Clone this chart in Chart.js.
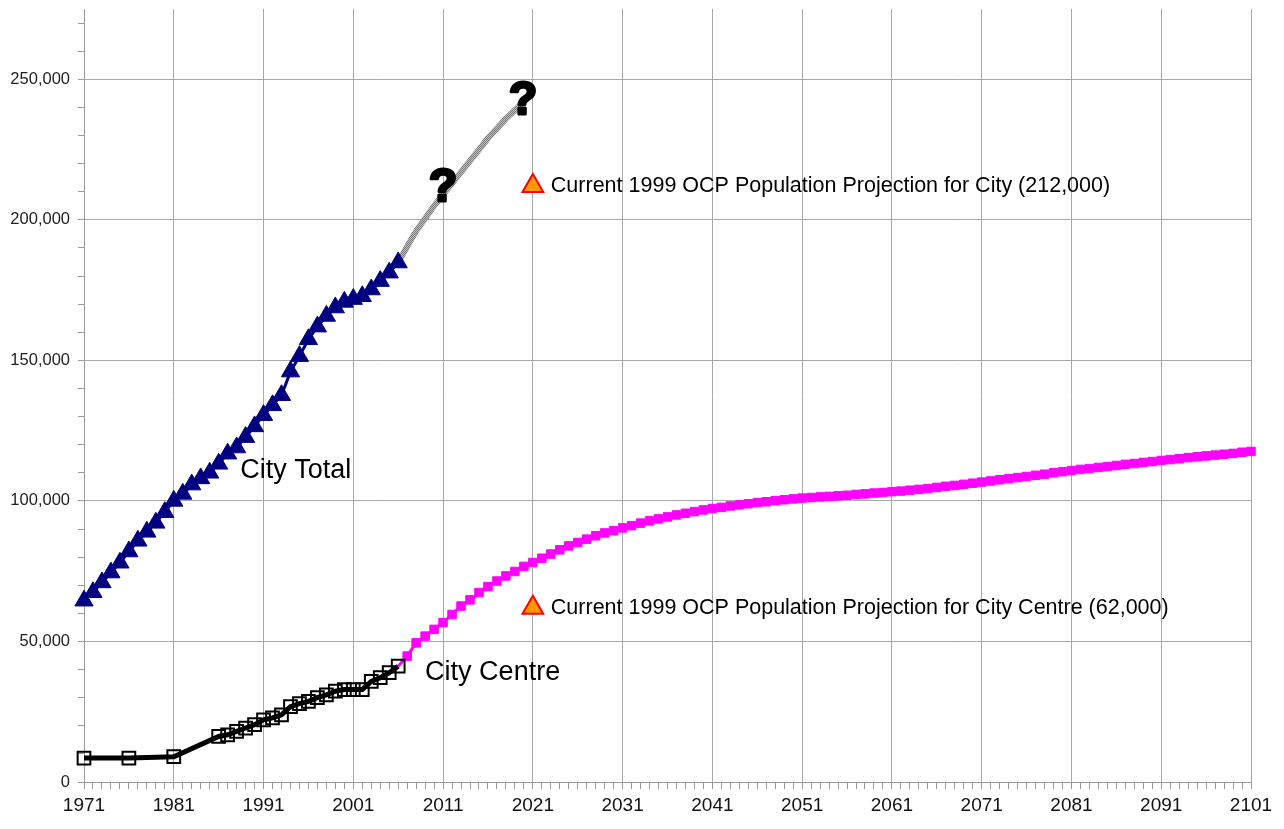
<!DOCTYPE html>
<html>
<head>
<meta charset="utf-8">
<script src="https://cdn.jsdelivr.net/npm/chart.js@4/dist/chart.umd.min.js"></script>
<style>
  html, body { margin: 0; padding: 0; background: #fff; }
  #wrap { width: 1284px; height: 829px; }
</style>
</head>
<body>
<div id="wrap"><canvas id="chart"></canvas></div>
<script>
// City total, annual estimates 1971-2006
const totalYears = [
  1971, 1972, 1973, 1974, 1975, 1976, 1977, 1978, 1979, 1980,
  1981, 1982, 1983, 1984, 1985, 1986, 1987, 1988, 1989, 1990,
  1991, 1992, 1993, 1994, 1995, 1996, 1997, 1998, 1999, 2000,
  2001, 2002, 2003, 2004, 2005, 2006,
]
const totalValues = [
  64500, 67500, 71000, 74500, 78000, 82000, 85800, 89000, 92200, 96000,
  100000, 102500, 105800, 108000, 110000, 113200, 116800, 119000, 122700, 126500,
  130500, 134000, 137600, 146000, 151500, 157500, 162000, 165800, 168800, 170800,
  171800, 172800, 175200, 178200, 181200, 184800,
]

// City total, trend continued (grey)
const trendYears = [2006, 2007, 2008, 2009, 2010, 2011, 2012, 2013, 2014, 2015, 2016, 2017, 2018, 2019, 2020]
const trendValues = [184800, 190500, 196000, 200500, 205000, 209000, 213000, 217000, 221000, 225000, 229000, 232500, 236000, 239000, 242000]

// City centre
const centreYears = [
  1971, 1976, 1981, 1986, 1987, 1988, 1989, 1990, 1991, 1992,
  1993, 1994, 1995, 1996, 1997, 1998, 1999, 2000, 2001, 2002,
  2003, 2004, 2005, 2006,
]
const centreValues = [
  8500, 8500, 9000, 16200, 16800, 18000, 19200, 20400, 22100, 22800,
  23900, 26800, 27900, 28700, 30000, 31000, 32300, 32900, 32900, 32900,
  35800, 37100, 38900, 41200,
]

// City centre projection (magenta)
const projYears = [
  2006, 2007, 2008, 2009, 2010, 2011, 2012, 2013, 2014, 2015,
  2016, 2017, 2018, 2019, 2020, 2021, 2022, 2023, 2024, 2025,
  2026, 2027, 2028, 2029, 2030, 2031, 2032, 2033, 2034, 2035,
  2036, 2037, 2038, 2039, 2040, 2041, 2042, 2043, 2044, 2045,
  2046, 2047, 2048, 2049, 2050, 2051, 2052, 2053, 2054, 2055,
  2056, 2057, 2058, 2059, 2060, 2061, 2062, 2063, 2064, 2065,
  2066, 2067, 2068, 2069, 2070, 2071, 2072, 2073, 2074, 2075,
  2076, 2077, 2078, 2079, 2080, 2081, 2082, 2083, 2084, 2085,
  2086, 2087, 2088, 2089, 2090, 2091, 2092, 2093, 2094, 2095,
  2096, 2097, 2098, 2099, 2100, 2101,
]
const projValues = [
  41200, 44800, 49500, 51900, 54300, 56700, 59600, 62600, 64800, 67400,
  69500, 71500, 73300, 74900, 76700, 78100, 79600, 81100, 82600, 84000,
  85200, 86400, 87600, 88600, 89400, 90400, 91200, 92100, 92900, 93600,
  94300, 95000, 95600, 96200, 96800, 97300, 97700, 98200, 98600, 99000,
  99400, 99700, 100100, 100400, 100700, 101000, 101200, 101400, 101600, 101800,
  102000, 102300, 102500, 102800, 103000, 103300, 103500, 103800, 104100, 104400,
  104800, 105200, 105500, 105900, 106300, 106700, 107100, 107500, 107900, 108300,
  108700, 109100, 109500, 110000, 110400, 110800, 111200, 111500, 111900, 112200,
  112600, 113000, 113300, 113700, 114000, 114400, 114700, 115000, 115400, 115700,
  116000, 116300, 116600, 116900, 117300, 117600,
]

// 1999 OCP projections
const ocpYears = [2021, 2021]
const ocpValues = [212000, 62000]
const ocpLabels = [
  "Current 1999 OCP Population Projection for City (212,000)",
  "Current 1999 OCP Population Projection for City Centre (62,000)",
]

// y axis ticks (labels only on every 50,000)
const yTicks = [
  0, 10000, 20000, 30000, 40000, 50000, 60000, 70000, 80000, 90000,
  100000, 110000, 120000, 130000, 140000, 150000, 160000, 170000, 180000, 190000,
  200000, 210000, 220000, 230000, 240000, 250000, 260000, 270000,
]

// free text placed in data units
const seriesNotes = [
  { text: "City Total", year: 1988.4, value: 110700 },
  { text: "City Centre", year: 2009, value: 38900 },
]
const questionMarks = [
  { year: 2011, value: 206800 },
  { year: 2019.9, value: 237500 },
]

const GRID = "#a8a8a8"
const TICK = "#999999"
const FONT = "'Liberation Sans', Arial, sans-serif"

function points(xs, ys) {
  return xs.map((x, i) => ({ x, y: ys[i] }))
}

function greyPattern() {
  const c = document.createElement("canvas")
  c.width = 2
  c.height = 2
  const g = c.getContext("2d")
  g.fillStyle = "#bcbcbc"
  g.fillRect(0, 0, 2, 2)
  g.fillStyle = "#7c7c7c"
  g.fillRect(0, 0, 1, 1)
  g.fillRect(1, 1, 1, 1)
  return g.createPattern(c, "repeat")
}

const textPlugin = {
  id: "notes",
  afterDatasetsDraw(chart) {
    const { ctx, scales } = chart
    const xs = scales.x
    const ys = scales.y
    ctx.save()
    ctx.fillStyle = "#000"
    ctx.textAlign = "left"
    ctx.textBaseline = "middle"
    ctx.font = `27px ${FONT}`
    seriesNotes.forEach((n) => {
      ctx.fillText(n.text, xs.getPixelForValue(n.year), ys.getPixelForValue(n.value))
    })

    ctx.font = `21.5px ${FONT}`
    ocpLabels.forEach((label, i) => {
      ctx.fillText(label, xs.getPixelForValue(ocpYears[i]) + 18, ys.getPixelForValue(ocpValues[i]))
    })

    ctx.font = `bold 46px ${FONT}`
    ctx.textAlign = "center"
    ctx.textBaseline = "alphabetic"
    ctx.lineWidth = 3
    ctx.lineJoin = "round"
    ctx.strokeStyle = "#000"
    questionMarks.forEach((q) => {
      const px = xs.getPixelForValue(q.year)
      const py = ys.getPixelForValue(q.value)
      ctx.strokeText("?", px, py)
      ctx.fillText("?", px, py)
    })
    ctx.restore()
  },
}

new Chart(document.getElementById("chart"), {
  type: "line",
  data: {
    datasets: [
      {
        label: "OCP projection",
        data: points(ocpYears, ocpValues),
        showLine: false,
        pointStyle: "triangle",
        pointRadius: 12,
        pointBackgroundColor: "#ff9900",
        pointBorderColor: "#ff0000",
        pointBorderWidth: 2,
        clip: false,
      },
      {
        label: "City Total",
        data: points(totalYears, totalValues),
        borderColor: "#000080",
        borderWidth: 3,
        pointStyle: "triangle",
        pointRadius: 10.5,
        pointBackgroundColor: "#000080",
        pointBorderColor: "#000080",
        pointBorderWidth: 1,
        clip: false,
      },
      {
        label: "City Centre",
        data: points(centreYears, centreValues),
        borderColor: "#000",
        borderWidth: 5,
        pointStyle: "rect",
        pointRadius: 9,
        pointBackgroundColor: "rgba(0,0,0,0)",
        pointBorderColor: "#000",
        pointBorderWidth: 2,
        clip: false,
      },
      {
        label: "City Total trend",
        data: points(trendYears, trendValues),
        borderColor: greyPattern(),
        borderWidth: 6,
        pointRadius: 0,
      },
      {
        label: "City Centre projection",
        data: points(projYears, projValues),
        borderColor: "#ff00ff",
        borderWidth: 3,
        pointStyle: "rect",
        pointRadius: (ctx) => (ctx.dataIndex === 0 ? 0 : 6),
        pointBackgroundColor: "#ff00ff",
        pointBorderColor: "#ff00ff",
        pointBorderWidth: 1,
        clip: false,
      },
    ],
  },
  options: {
    responsive: true,
    maintainAspectRatio: false,
    animation: false,
    events: [],
    layout: { autoPadding: false, padding: { top: 9, right: 33, left: 0, bottom: 0 } },
    plugins: {
      legend: { display: false },
      tooltip: { enabled: false },
    },
    scales: {
      x: {
        type: "linear",
        min: 1971,
        max: 2101,
        afterFit: (scale) => { scale.height = 47 },
        ticks: {
          stepSize: 1,
          autoSkip: false,
          maxRotation: 0,
          minRotation: 0,
          padding: 5,
          color: "#111",
          font: { family: FONT, size: 19 },
          callback: (v) => ((v - 1971) % 10 === 0 ? String(v) : ""),
        },
        grid: {
          color: (ctx) => (ctx.tick && (ctx.tick.value - 1971) % 10 === 0 ? GRID : "rgba(0,0,0,0)"),
          tickColor: TICK,
          tickLength: 7,
        },
        border: { color: TICK },
      },
      y: {
        type: "linear",
        min: 0,
        max: 275000,
        afterFit: (scale) => {
          scale.width = 84
          scale.paddingTop = 0
          scale.paddingBottom = 0
        },
        afterBuildTicks: (scale) => {
          scale.ticks = yTicks.map((value) => ({ value }))
        },
        ticks: {
          autoSkip: false,
          padding: 8,
          color: "#222",
          font: { family: FONT, size: 16.5 },
          callback: (v) => (v % 50000 === 0 ? v.toLocaleString("en-US") : ""),
        },
        grid: {
          color: (ctx) => (ctx.tick && ctx.tick.value % 50000 === 0 ? GRID : "rgba(0,0,0,0)"),
          tickColor: TICK,
          tickLength: 6,
        },
        border: { color: TICK },
      },
    },
  },
  plugins: [textPlugin],
})
</script>
</body>
</html>
